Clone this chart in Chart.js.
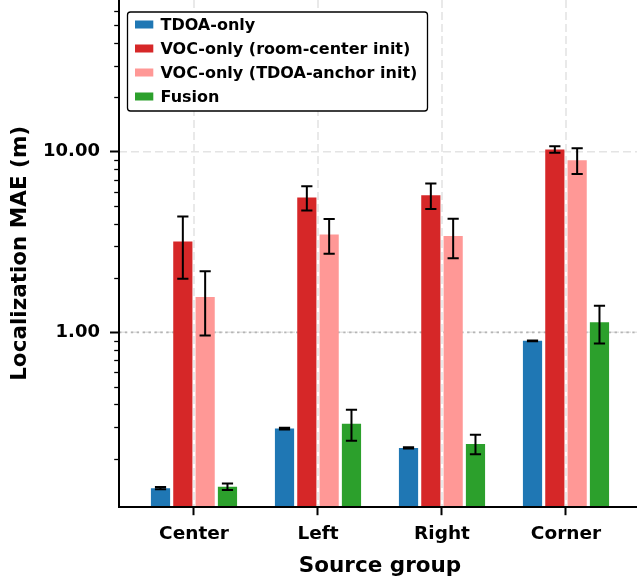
<!DOCTYPE html>
<html>
<head>
<meta charset="utf-8">
<script src="https://cdn.jsdelivr.net/npm/chart.js@4/dist/chart.umd.min.js"></script>
<style>
  html, body { margin: 0; padding: 0; background: #ffffff; }
  #wrap { width: 637px; height: 578px; position: relative; }
</style>
</head>
<body>
<div id="wrap"><canvas id="c" width="637" height="578"></canvas></div>
<script>
// Source groups (x categories)
const groups = ['Center', 'Left', 'Right', 'Corner'];

// Methods compared
const seriesNames = [
  'TDOA-only',
  'VOC-only (room-center init)',
  'VOC-only (TDOA-anchor init)',
  'Fusion'
];
const seriesColors = ['#1f77b4', '#d62728', '#ff9896', '#2ca02c'];

// Localization MAE (m) per group, with standard deviation
const tdoaMae      = [0.137, 0.293, 0.229, 0.897];
const tdoaStd      = [0.002, 0.003, 0.002, 0.005];
const vocRoomMae   = [3.18, 5.58, 5.74, 10.3];
const vocRoomStd   = [1.2, 0.85, 0.93, 0.42];
const vocAnchorMae = [1.57, 3.48, 3.41, 8.98];
const vocAnchorStd = [0.61, 0.76, 0.84, 1.46];
const fusionMae    = [0.1395, 0.312, 0.241, 1.135];
const fusionStd    = [0.0058, 0.061, 0.03, 0.268];

// Log axis ticks
const yMajorTicks = [1, 10];
const yMinorTicks = [0.2, 0.3, 0.4, 0.5, 0.6, 0.7, 0.8, 0.9,
                     2, 3, 4, 5, 6, 7, 8, 9,
                     20, 30, 40, 50, 60];

const FONT = "'DejaVu Sans', sans-serif";
const maeSeries = [tdoaMae, vocRoomMae, vocAnchorMae, fusionMae];
const stdSeries = [tdoaStd, vocRoomStd, vocAnchorStd, fusionStd];

const datasets = seriesNames.map((name, s) => ({
  label: name,
  data: maeSeries[s].map((v, i) => ({ x: i, y: v })),
  errors: stdSeries[s],
  backgroundColor: seriesColors[s],
  borderWidth: 0,
  categoryPercentage: 0.72,
  barPercentage: 0.86
}));

// no extra padding around the plotting area
const noPad = s => { s.paddingTop = 0; s.paddingBottom = 0; s.paddingLeft = 0; s.paddingRight = 0; };

// Grid lines behind the bars
const gridPlugin = {
  id: 'gridBehind',
  beforeDatasetsDraw(chart) {
    const { ctx, chartArea: a, scales: { x, y } } = chart;
    ctx.save();
    ctx.beginPath();
    ctx.rect(a.left, a.top, a.right - a.left, a.bottom - a.top);
    ctx.clip();
    ctx.strokeStyle = '#e4e4e4';
    ctx.lineWidth = 1.6;
    ctx.setLineDash([8, 4]);
    groups.forEach((g, i) => {
      const px = x.getPixelForValue(i);
      ctx.beginPath();
      ctx.moveTo(px, a.top);
      ctx.lineTo(px, a.bottom);
      ctx.stroke();
    });
    yMajorTicks.forEach(v => {
      const py = y.getPixelForValue(v);
      ctx.beginPath();
      ctx.moveTo(a.left, py);
      ctx.lineTo(a.right, py);
      ctx.stroke();
    });
    // reference line at 1 m
    ctx.strokeStyle = '#b5b5b5';
    ctx.lineWidth = 1.7;
    ctx.setLineDash([2.4, 3.5]);
    const p1 = y.getPixelForValue(1);
    ctx.beginPath();
    ctx.moveTo(a.left, p1);
    ctx.lineTo(a.right, p1);
    ctx.stroke();
    ctx.restore();
  }
};

// Error bars (mean ± std) on every bar
const errorBarPlugin = {
  id: 'errorBars',
  afterDatasetsDraw(chart) {
    const { ctx, scales: { y } } = chart;
    ctx.save();
    ctx.strokeStyle = '#000000';
    ctx.lineWidth = 2;
    ctx.setLineDash([]);
    chart.data.datasets.forEach((ds, d) => {
      const meta = chart.getDatasetMeta(d);
      meta.data.forEach((bar, i) => {
        const m = ds.data[i].y;
        const e = ds.errors[i];
        const yHi = y.getPixelForValue(m + e);
        const yLo = y.getPixelForValue(m - e);
        const cx = bar.x;
        const half = 5.6;
        ctx.beginPath();
        ctx.moveTo(cx, yHi);
        ctx.lineTo(cx, yLo);
        ctx.moveTo(cx - half, yHi);
        ctx.lineTo(cx + half, yHi);
        ctx.moveTo(cx - half, yLo);
        ctx.lineTo(cx + half, yLo);
        ctx.stroke();
      });
    });
    ctx.restore();
  }
};

// Minor log ticks, axis titles and the legend box
const decorPlugin = {
  id: 'decor',
  afterDraw(chart) {
    const { ctx, chartArea: a, scales: { y } } = chart;
    ctx.save();
    ctx.strokeStyle = '#000000';
    ctx.lineWidth = 1.3;
    yMinorTicks.forEach(v => {
      const py = Math.round(y.getPixelForValue(v)) + 0.5;
      if (py < a.top || py > a.bottom) return;
      ctx.beginPath();
      ctx.moveTo(a.left - 4.8, py);
      ctx.lineTo(a.left, py);
      ctx.stroke();
    });

    ctx.fillStyle = '#000000';
    ctx.font = 'bold 21.5px ' + FONT;
    ctx.textAlign = 'center';
    ctx.textBaseline = 'alphabetic';
    ctx.fillText('Source group', 380, 572);

    ctx.save();
    ctx.translate(26, (a.top + a.bottom) / 2);
    ctx.rotate(-Math.PI / 2);
    ctx.fillText('Localization MAE (m)', 0, 0);
    ctx.restore();

    // legend
    const bx = 127.5, by = 12, bw = 300, bh = 99, r = 3;
    ctx.beginPath();
    ctx.moveTo(bx + r, by);
    ctx.lineTo(bx + bw - r, by);
    ctx.arcTo(bx + bw, by, bx + bw, by + r, r);
    ctx.lineTo(bx + bw, by + bh - r);
    ctx.arcTo(bx + bw, by + bh, bx + bw - r, by + bh, r);
    ctx.lineTo(bx + r, by + bh);
    ctx.arcTo(bx, by + bh, bx, by + bh - r, r);
    ctx.lineTo(bx, by + r);
    ctx.arcTo(bx, by, bx + r, by, r);
    ctx.closePath();
    ctx.fillStyle = '#ffffff';
    ctx.fill();
    ctx.strokeStyle = '#000000';
    ctx.lineWidth = 1.3;
    ctx.stroke();

    ctx.font = 'bold 16px ' + FONT;
    ctx.textAlign = 'left';
    ctx.textBaseline = 'middle';
    chart.data.datasets.forEach((ds, i) => {
      const cy = 24.5 + i * 24;
      ctx.fillStyle = ds.backgroundColor;
      ctx.fillRect(135, cy - 4, 18.3, 8);
      ctx.fillStyle = '#000000';
      ctx.fillText(ds.label, 160.5, cy + 1);
    });
    ctx.restore();
  }
};

new Chart(document.getElementById('c'), {
  type: 'bar',
  data: { datasets },
  options: {
    responsive: false,
    animation: false,
    devicePixelRatio: 1,
    layout: { padding: 0 },
    plugins: {
      legend: { display: false },
      tooltip: { enabled: false }
    },
    scales: {
      x: {
        type: 'linear',
        min: -0.6048,
        max: 3.5726,
        offset: false,
        afterBuildTicks: s => { s.ticks = groups.map((g, i) => ({ value: i })); },
        afterFit: s => { s.height = 71.3; noPad(s); },
        ticks: {
          callback: v => groups[v],
          autoSkip: false,
          maxRotation: 0,
          color: '#000000',
          padding: 8,
          font: { family: FONT, size: 18.5, weight: 'bold' }
        },
        grid: {
          drawOnChartArea: false,
          offset: false,
          tickLength: 8.5,
          tickWidth: 2,
          tickColor: '#000000'
        },
        border: { color: '#000000', width: 2, z: 1 }
      },
      y: {
        type: 'logarithmic',
        min: 0.1082,
        max: 69.2,
        bounds: 'data',
        afterBuildTicks: s => { s.ticks = yMajorTicks.map(v => ({ value: v })); },
        afterFit: s => { s.width = 119; noPad(s); },
        ticks: {
          callback: v => Number(v).toFixed(2),
          autoSkip: false,
          color: '#000000',
          padding: 10,
          font: { family: FONT, size: 18, weight: 'bold' }
        },
        grid: {
          drawOnChartArea: false,
          tickLength: 9,
          tickWidth: 2,
          tickColor: '#000000'
        },
        border: { color: '#000000', width: 2, z: 1 }
      }
    }
  },
  plugins: [gridPlugin, errorBarPlugin, decorPlugin]
});
</script>
</body>
</html>
